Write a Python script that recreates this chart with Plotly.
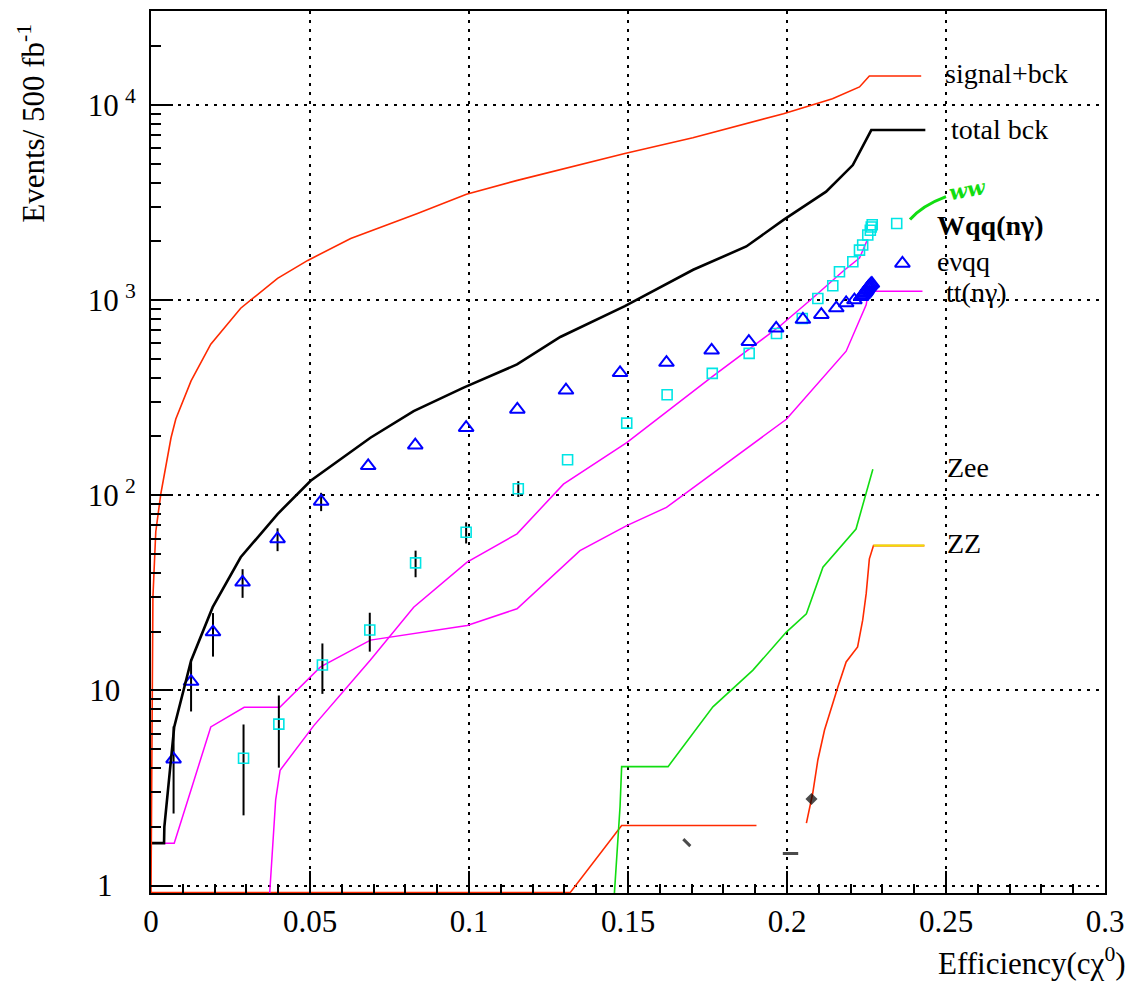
import plotly.graph_objects as go

# ---------------- data ----------------
# signal + background (cumulative events vs efficiency)
sig_bck_x = [0.0, 0.0003, 0.0006, 0.0015, 0.0031, 0.0063, 0.0078, 0.0126, 0.0188, 0.0282,
             0.0398, 0.0493, 0.0628, 0.0838, 0.0992, 0.1152, 0.1412, 0.149, 0.1704,
             0.1989, 0.2143, 0.2228, 0.2259, 0.2422]
sig_bck_y = [0.92, 8.0, 30.0, 65.0, 102, 197, 246, 385, 594, 908,
             1292, 1596, 2069, 2774, 3480, 4103, 5252, 5633, 6793,
             9014, 10740, 12360, 14070, 14070]

# total background
tot_bck_x = [0.0, 0.0041, 0.0042, 0.0073, 0.0126, 0.0194, 0.0282, 0.0398, 0.0502, 0.069,
             0.0826, 0.0983, 0.1151, 0.1287, 0.149, 0.1705, 0.1872, 0.1989, 0.2123,
             0.2207, 0.2265, 0.2435]
tot_bck_y = [1.65, 1.65, 2.0, 6.5, 14.2, 26.7, 48.1, 80.1, 118.6, 197,
             270, 356, 468, 647, 930, 1430, 1882, 2575, 3594,
             4917, 7430, 7430]

# tt(n gamma), two selections
tt_a_x = [0.0, 0.0073, 0.0126, 0.0188, 0.0293, 0.0405, 0.0533, 0.069, 0.0994, 0.1151,
          0.1349, 0.1496, 0.1621, 0.1998, 0.2186, 0.2249, 0.2256, 0.2426]
tt_a_y = [1.65, 1.65, 3.1, 6.5, 8.2, 8.2, 13.2, 18.1, 21.5, 26.2,
          52, 69.9, 86.6, 245, 547, 946, 1109, 1109]

tt_b_x = [0.0372, 0.0392, 0.0406, 0.0512, 0.069, 0.0826, 0.0994, 0.1151, 0.1297, 0.1496,
          0.1767, 0.1977, 0.2081, 0.2175, 0.2228, 0.2253]
tt_b_y = [0.85, 2.75, 3.9, 6.6, 14.3, 26.7, 45.4, 63.4, 114, 186,
          408, 734, 1024, 1400, 1640, 2043]

# Zee
zee_x = [0.1456, 0.1475, 0.148, 0.1626, 0.1767, 0.1893, 0.1998, 0.2061, 0.2113, 0.2217, 0.227]
zee_y = [0.85, 2.54, 4.07, 4.07, 8.24, 12.7, 19.9, 24.7, 42.8, 67.1, 136]

# ZZ (None marks the break in the drawn curve)
zz_x = [0.0, 0.1318, 0.148, 0.1904, None, 0.2061, 0.2081, 0.2097, 0.2118, 0.216, 0.2186,
        0.2222, 0.2238, 0.2249, 0.2259, 0.2272, 0.2432]
zz_y = [0.92, 0.92, 2.03, 2.03, None, 2.09, 2.98, 4.4, 6.27, 10.4, 14.0,
        16.7, 22.9, 31.3, 47.2, 55.2, 55.2]

# e nu q q (triangles)
enuqq_x = [0.0071, 0.0126, 0.0195, 0.0288, 0.0398, 0.0535, 0.0683, 0.0831, 0.0991, 0.1152,
           0.1305, 0.1475, 0.1621, 0.1763, 0.188, 0.1966, 0.205, 0.2108, 0.2155, 0.2186,
           0.2212, 0.2233, 0.2238, 0.2242, 0.2246, 0.2249, 0.2252, 0.2255, 0.2258, 0.2261,
           0.2264, 0.2267]
enuqq_y = [4.44, 11.1, 19.9, 35.8, 59.7, 92.9, 141.5, 180.6, 222, 275,
           345, 424, 478, 553, 612, 716, 795, 842, 910, 966,
           1000, 1040, 1060, 1080, 1100, 1120, 1140, 1160, 1175, 1190,
           1205, 1215]
enuqq_err = [2.1, 3.3, 5, 6, 8, 10, 0, 0, 0, 0,
             0, 0, 0, 0, 0, 0, 0, 0, 0, 0,
             0, 0, 0, 0, 0, 0, 0, 0, 0, 0,
             0, 0]

# W q q (n gamma) (squares)
wqq_x = [0.0291, 0.0402, 0.0539, 0.0688, 0.0832, 0.0991, 0.1155, 0.131, 0.1496, 0.1623,
         0.1765, 0.1881, 0.1967, 0.2048, 0.2097, 0.2144, 0.2165, 0.2207, 0.2228, 0.2238,
         0.2254, 0.2262, 0.2265, 0.2268]
wqq_y = [4.49, 6.72, 13.5, 20.4, 45, 64.6, 108, 152, 234, 327,
         421, 533, 674, 805, 1019, 1183, 1396, 1570, 1803, 1913,
         2153, 2280, 2369, 2430]
wqq_err = [2.2, 2.7, 3.9, 4.6, 7, 8, 10, 0, 0, 0,
           0, 0, 0, 0, 0, 0, 0, 0, 0, 0,
           0, 0, 0, 0]

# isolated entries near the bottom
misc_x = [0.1685, 0.2011, 0.2077]
misc_y = [1.66, 1.46, 2.78]

# tick labels (trailing transparent digits keep the short labels left of the long ones)
PAD = "<span style='color:rgba(0,0,0,0)'>{}</span>"
x_tickvals = [0, 0.05, 0.1, 0.15, 0.2, 0.25, 0.3]
x_ticktext = ["0", "0.05", "0.1", "0.15", "0.2", "0.25", "0.3"]
y_tickvals = [1, 10, 100, 1000, 10000]
y_ticktext = ["1" + PAD.format("0."), "10" + PAD.format("0"), "10\u2009<sup>2</sup>",
              "10\u2009<sup>3</sup>", "10\u2009<sup>4</sup>"]

# legend key markers (x, y)
key_square = (0.2345, 2466)
key_triangle = (0.2363, 1541)

# ---------------- figure ----------------
W, H = 1136, 987
L, R, T, B = 151, 31, 9, 94
PW, PH = W - L - R, H - T - B


def px(xp):
    return (xp - L) / PW


def py(yp):
    return (H - B - yp) / PH


RED = "#ff2a00"
MAG = "#ff00ff"
GRN = "#11dd11"
BLUE = "#0000ff"
CYAN = "#00e5e5"

fig = go.Figure()

fig.add_trace(go.Scatter(x=zz_x, y=zz_y, mode="lines", connectgaps=False,
                         line=dict(color=RED, width=1.6)))
fig.add_trace(go.Scatter(x=zz_x[-2:], y=zz_y[-2:], mode="lines",
                         line=dict(color="#f0e000", width=2)))
fig.add_trace(go.Scatter(x=zee_x, y=zee_y, mode="lines", line=dict(color=GRN, width=1.6)))
fig.add_trace(go.Scatter(x=tt_a_x, y=tt_a_y, mode="lines", line=dict(color=MAG, width=1.5)))
fig.add_trace(go.Scatter(x=tt_b_x, y=tt_b_y, mode="lines", line=dict(color=MAG, width=1.5)))

fig.add_trace(go.Scatter(
    x=wqq_x, y=wqq_y, mode="markers",
    marker=dict(symbol="square-open", size=10, color=CYAN, line=dict(width=1.6, color=CYAN)),
    error_y=dict(type="data", array=wqq_err, color="black", thickness=2, width=0)))
fig.add_trace(go.Scatter(
    x=enuqq_x, y=enuqq_y, mode="markers",
    marker=dict(symbol="triangle-up-open", size=13, color=BLUE, line=dict(width=2, color=BLUE)),
    error_y=dict(type="data", array=enuqq_err, color="black", thickness=2, width=0)))

fig.add_trace(go.Scatter(x=tot_bck_x, y=tot_bck_y, mode="lines",
                         line=dict(color="black", width=2.6)))
fig.add_trace(go.Scatter(x=sig_bck_x, y=sig_bck_y, mode="lines", line=dict(color=RED, width=1.6)))

fig.add_trace(go.Scatter(
    x=misc_x, y=misc_y, mode="markers",
    marker=dict(symbol=["line-nw", "line-ew", "diamond"], size=[7, 11, 6], color="black",
                line=dict(width=3, color="black"))))

# legend keys
fig.add_trace(go.Scatter(
    x=[key_square[0]], y=[key_square[1]], mode="markers",
    marker=dict(symbol="square-open", size=10, color=CYAN, line=dict(width=1.6, color=CYAN))))
fig.add_trace(go.Scatter(
    x=[key_triangle[0]], y=[key_triangle[1]], mode="markers",
    marker=dict(symbol="triangle-up-open", size=13, color=BLUE, line=dict(width=2, color=BLUE))))

axis_common = dict(
    showline=True, linecolor="black", linewidth=2, mirror=True,
    ticks="inside", ticklen=22, tickwidth=2, tickcolor="black",
    showgrid=True, gridcolor="black", gridwidth=1.5, griddash="3px,6px",
    zeroline=False,
    tickfont=dict(family="Liberation Serif", size=31, color="black"),
)

x_minor = [round(0.01 * i, 2) for i in range(1, 30) if i % 5 != 0]
y_minor = [m * 10 ** d for d in range(0, 5) for m in range(2, 10)]

fig.update_xaxes(range=[0, 0.3], tickmode="array", tickvals=x_tickvals, ticktext=x_ticktext,
                 minor=dict(tickmode="array", tickvals=x_minor, ticks="inside", ticklen=9,
                            tickwidth=1.5, tickcolor="black", showgrid=False),
                 **axis_common)
fig.update_yaxes(type="log", range=[-0.038, 4.481], tickmode="array", tickvals=y_tickvals,
                 ticktext=y_ticktext, ticklabelstandoff=7,
                 minor=dict(tickmode="array", tickvals=y_minor, ticks="inside", ticklen=10,
                            tickwidth=1.5, tickcolor="black", showgrid=False),
                 **axis_common)

TXT = dict(family="Liberation Serif", size=28, color="black")
labels = [
    ("signal+bck", 943, 72),
    ("total bck", 949, 128),
    ("<b>Wqq(nγ)</b>", 935, 224),
    ("eνqq", 935, 260),
    ("tt(nγ)", 944, 291),
    ("Zee", 945, 467),
    ("ZZ", 945, 543),
]
annotations = []
for text, xp, yp in labels:
    annotations.append(dict(text=text, x=px(xp), y=py(yp), xref="paper", yref="paper",
                            xanchor="left", yanchor="middle", showarrow=False, font=TXT))

annotations.append(dict(text="<b>ww</b>", x=px(945), y=py(188), xref="paper", yref="paper",
                        xanchor="left", yanchor="middle", showarrow=False, textangle=-10,
                        font=dict(family="DejaVu Serif", size=21, color=GRN, style="italic")))

annotations.append(dict(text="Efficiency(cχ<sup>0</sup>)", x=px(1128), y=py(962),
                        xref="paper", yref="paper", xanchor="right", yanchor="middle",
                        showarrow=False,
                        font=dict(family="Liberation Serif", size=31, color="black")))
annotations.append(dict(text="Events/ 500 fb<sup>-1</sup>", x=px(32), y=py(122),
                        xref="paper", yref="paper", xanchor="center", yanchor="middle",
                        textangle=-90, showarrow=False,
                        font=dict(family="Liberation Serif", size=31, color="black")))

shapes = [dict(type="path", xref="paper", yref="paper",
               path=f"M {px(910)},{py(218)} Q {px(922)},{py(204)} {px(946)},{py(195)}",
               line=dict(color=GRN, width=3))]

fig.update_layout(
    width=W, height=H, margin=dict(l=L, r=R, t=T, b=B),
    plot_bgcolor="white", paper_bgcolor="white", showlegend=False,
    font=dict(family="Liberation Serif", size=31, color="black"),
    annotations=annotations, shapes=shapes,
)

fig.write_html("out.html")
